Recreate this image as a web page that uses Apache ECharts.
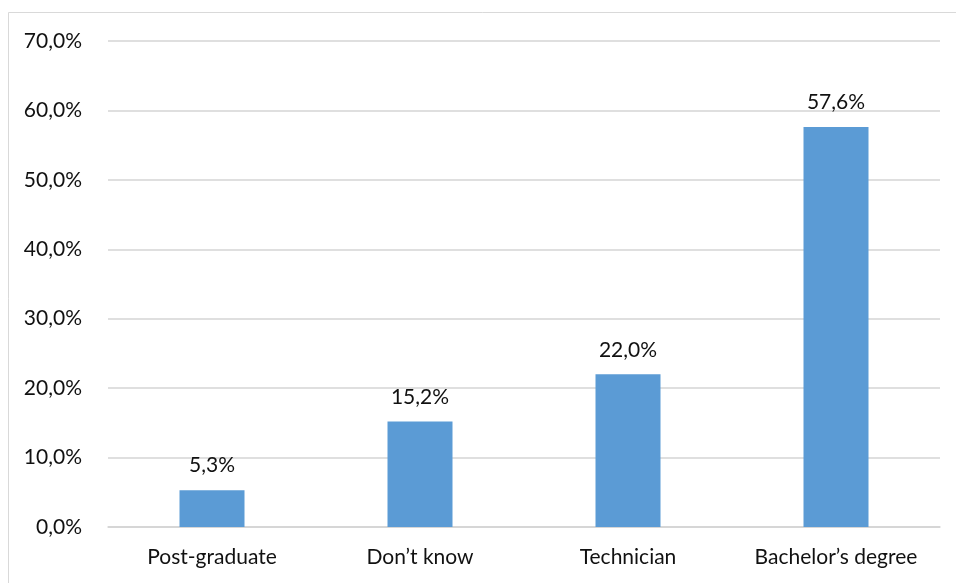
<!DOCTYPE html>
<html><head><meta charset="utf-8">
<script src="https://cdn.jsdelivr.net/npm/echarts@6/dist/echarts.min.js"></script>
<style>html,body{margin:0;padding:0;background:#fff}#c{width:956px;height:583px}</style>
</head><body><div id="c"></div>
<script>
const categories = ["Post-graduate", "Don’t know", "Technician", "Bachelor’s degree"];
const values = [5.3, 15.2, 22.0, 57.6];
const yTicks = [0, 10, 20, 30, 40, 50, 60, 70];
const fmt = v => v.toFixed(1).replace('.', ',') + '%';
const chart = echarts.init(document.getElementById('c'), null, {renderer: 'canvas'});
chart.setOption({
  backgroundColor: '#fff',
  animation: false,
  textStyle: {fontFamily: 'Lato'},
  graphic: [{type: 'rect', shape: {x: 8.5, y: 12.5, width: 1000, height: 1000}, style: {fill: 'none', stroke: '#D9D9D9', lineWidth: 1}, silent: true}],
  grid: {left: 108, right: 16, top: 41, bottom: 56, containLabel: false},
  xAxis: {
    type: 'category', data: categories,
    axisLine: {show: true, lineStyle: {color: '#D4D4D4', width: 1.5}},
    axisTick: {show: false},
    axisLabel: {color: '#111', fontSize: 21, margin: 20, interval: 0, hideOverlap: false, fontFamily: 'Lato'}
  },
  yAxis: {
    type: 'value', min: yTicks[0], max: yTicks[yTicks.length - 1], interval: 10,
    axisLine: {show: false}, axisTick: {show: false},
    splitLine: {lineStyle: {color: '#D4D4D4', width: 1.5}},
    axisLabel: {color: '#111', fontSize: 21, margin: 26, formatter: fmt, fontFamily: 'Lato'}
  },
  series: [{
    type: 'bar', data: values, barWidth: 65,
    itemStyle: {color: '#5B9BD5'},
    label: {show: true, position: 'top', distance: 14, color: '#111', fontSize: 21, fontFamily: 'Lato', formatter: p => fmt(p.value)}
  }]
});
</script></body></html>
